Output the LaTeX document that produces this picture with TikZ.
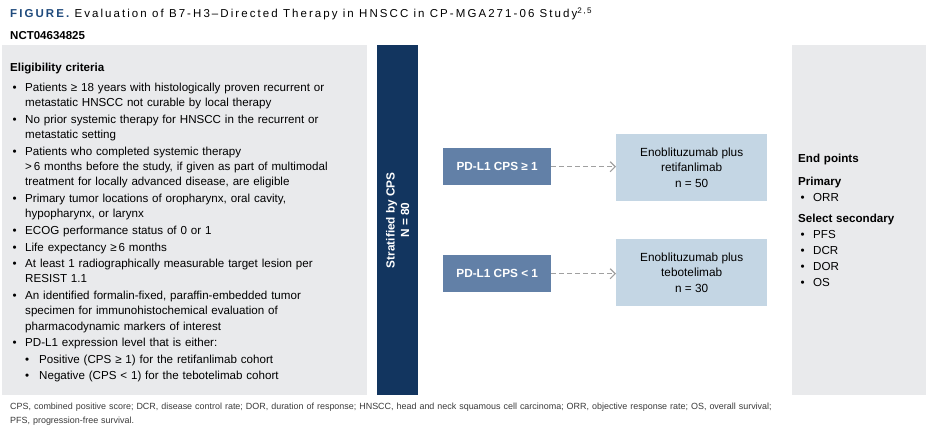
\documentclass[tikz,border=0pt]{standalone}
\usepackage{fontspec}
\setmainfont{Liberation Sans}
\usetikzlibrary{arrows.meta}
\definecolor{panelgrey}{HTML}{E9EAEC}
\definecolor{navybar}{HTML}{12355F}
\definecolor{cpsblue}{HTML}{6280A7}
\definecolor{armblue}{HTML}{C4D6E4}
\definecolor{arrowgrey}{HTML}{A0A0A0}
\definecolor{titlenavy}{HTML}{1F4A7C}
\definecolor{notegrey}{HTML}{3A3A3A}
\newcommand{\bul}[1]{\par\hangindent=15pt\hangafter=1\noindent\makebox[15pt][l]{\hspace{2.5pt}•}#1}
\newcommand{\subbul}[1]{\par\hangindent=29pt\hangafter=1\noindent\makebox[29pt][l]{\hspace{15pt}•}#1}
\tikzset{
  panel/.style={fill=panelgrey, draw=none, anchor=north west, inner sep=0pt},
  navy/.style={fill=navybar, draw=none, anchor=north west, inner sep=0pt},
  cpsbox/.style={fill=cpsblue, draw=none, text=white, font=\fontsize{11.8}{14}\selectfont\bfseries, minimum width=108pt, minimum height=37pt, anchor=north west, inner sep=0pt},
  armbox/.style={fill=armblue, draw=none, text=black, font=\fontsize{11.8}{15.5}\selectfont, align=center, minimum width=151pt, minimum height=67pt, anchor=north west, inner sep=0pt},
  dasharrow/.style={draw=arrowgrey, dash pattern=on 5pt off 3pt, line width=1.2pt, -{Straight Barb[length=5pt,width=10pt]}},
  txt/.style={anchor=north west, inner sep=0pt, align=left}
}
\begin{document}
\begin{tikzpicture}[x=1pt,y=-1pt]
\useasboundingbox (0,0) rectangle (929,433);
\fill[white] (0,0) rectangle (929,433);

% title
\node[anchor=base west, inner sep=0pt, font=\fontsize{11.5}{13}\selectfont\addfontfeature{LetterSpace=18}] (title) at (10,18)
  {\textcolor{titlenavy}{\bfseries FIGURE.} Evaluation of B7-H3–Directed Therapy in HNSCC in CP-MGA271-06 Study\textsuperscript{2,5}};
\node[anchor=base west, inner sep=0pt, font=\fontsize{11.5}{13}\selectfont\bfseries] (nct) at (10,40) {NCT04634825};

% panels
\node[panel, minimum width=365pt, minimum height=350pt] (elig) at (2,45) {};
\node[navy, minimum width=41pt, minimum height=350pt] (bar) at (377,45) {};
\node[panel, minimum width=134pt, minimum height=350pt] (endp) at (792,45) {};

% eligibility text
\node[txt, text width=355pt, font=\fontsize{11.6}{15.3}\selectfont] (crit) at (10,63) {%
  \setlength{\parskip}{1.3pt}%
  \noindent{\bfseries Eligibility criteria}\par\vspace{3.3pt}%
  \bul{Patients ≥ 18 years with histologically proven recurrent or\newline metastatic HNSCC not curable by local therapy}%
  \bul{No prior systemic therapy for HNSCC in the recurrent or\newline metastatic setting}%
  \bul{Patients who completed systemic therapy\newline >\,6 months before the study, if given as part of multimodal\newline treatment for locally advanced disease, are eligible}%
  \bul{Primary tumor locations of oropharynx, oral cavity,\newline hypopharynx, or larynx}%
  \bul{ECOG performance status of 0 or 1}%
  \bul{Life expectancy ≥\,6 months}%
  \bul{At least 1 radiographically measurable target lesion per\newline RESIST 1.1}%
  \bul{An identified formalin-fixed, paraffin-embedded tumor\newline specimen for immunohistochemical evaluation of\newline pharmacodynamic markers of interest}%
  \bul{PD-L1 expression level that is either:}%
  \subbul{Positive (CPS ≥ 1) for the retifanlimab cohort}%
  \subbul{Negative (CPS < 1) for the tebotelimab cohort}\par};

% stratification bar text
\node[rotate=90, text=white, align=center, inner sep=0pt, font=\fontsize{11.8}{14.5}\selectfont\bfseries] (strat) at (bar.center) {Stratified by CPS\\N = 80};

% CPS boxes and arms
\node[cpsbox] (cps1) at (443,148) {PD-L1 CPS ≥ 1};
\node[armbox] (arm1) at (616,134) {Enoblituzumab plus\\retifanlimab\\n = 50};
\node[cpsbox] (cps2) at (443,255) {PD-L1 CPS < 1};
\node[armbox] (arm2) at (616,239) {Enoblituzumab plus\\tebotelimab\\n = 30};
\draw[dasharrow] (cps1.east) -- (cps1.east -| arm1.west);
\draw[dasharrow] (cps2.east) -- (cps2.east -| arm2.west);

% end points
\node[txt, text width=125pt, font=\fontsize{11.6}{16}\selectfont] (endtxt) at (798,153.5) {%
  \noindent{\bfseries End points}\par\vspace{7pt}%
  \noindent{\bfseries Primary}\par
  \bul{ORR}\par\vspace{5pt}%
  \noindent{\bfseries Select secondary}\par
  \bul{PFS}\bul{DCR}\bul{DOR}\bul{OS}\par};

% footnote
\node[txt, text width=900pt, text=notegrey, font=\fontsize{8.95}{14}\selectfont] (note) at (10,402.5) {%
  CPS, combined positive score; DCR, disease control rate; DOR, duration of response; HNSCC, head and neck squamous cell carcinoma; ORR, objective response rate; OS, overall survival;\newline PFS, progression-free survival.};
\end{tikzpicture}
\end{document}
